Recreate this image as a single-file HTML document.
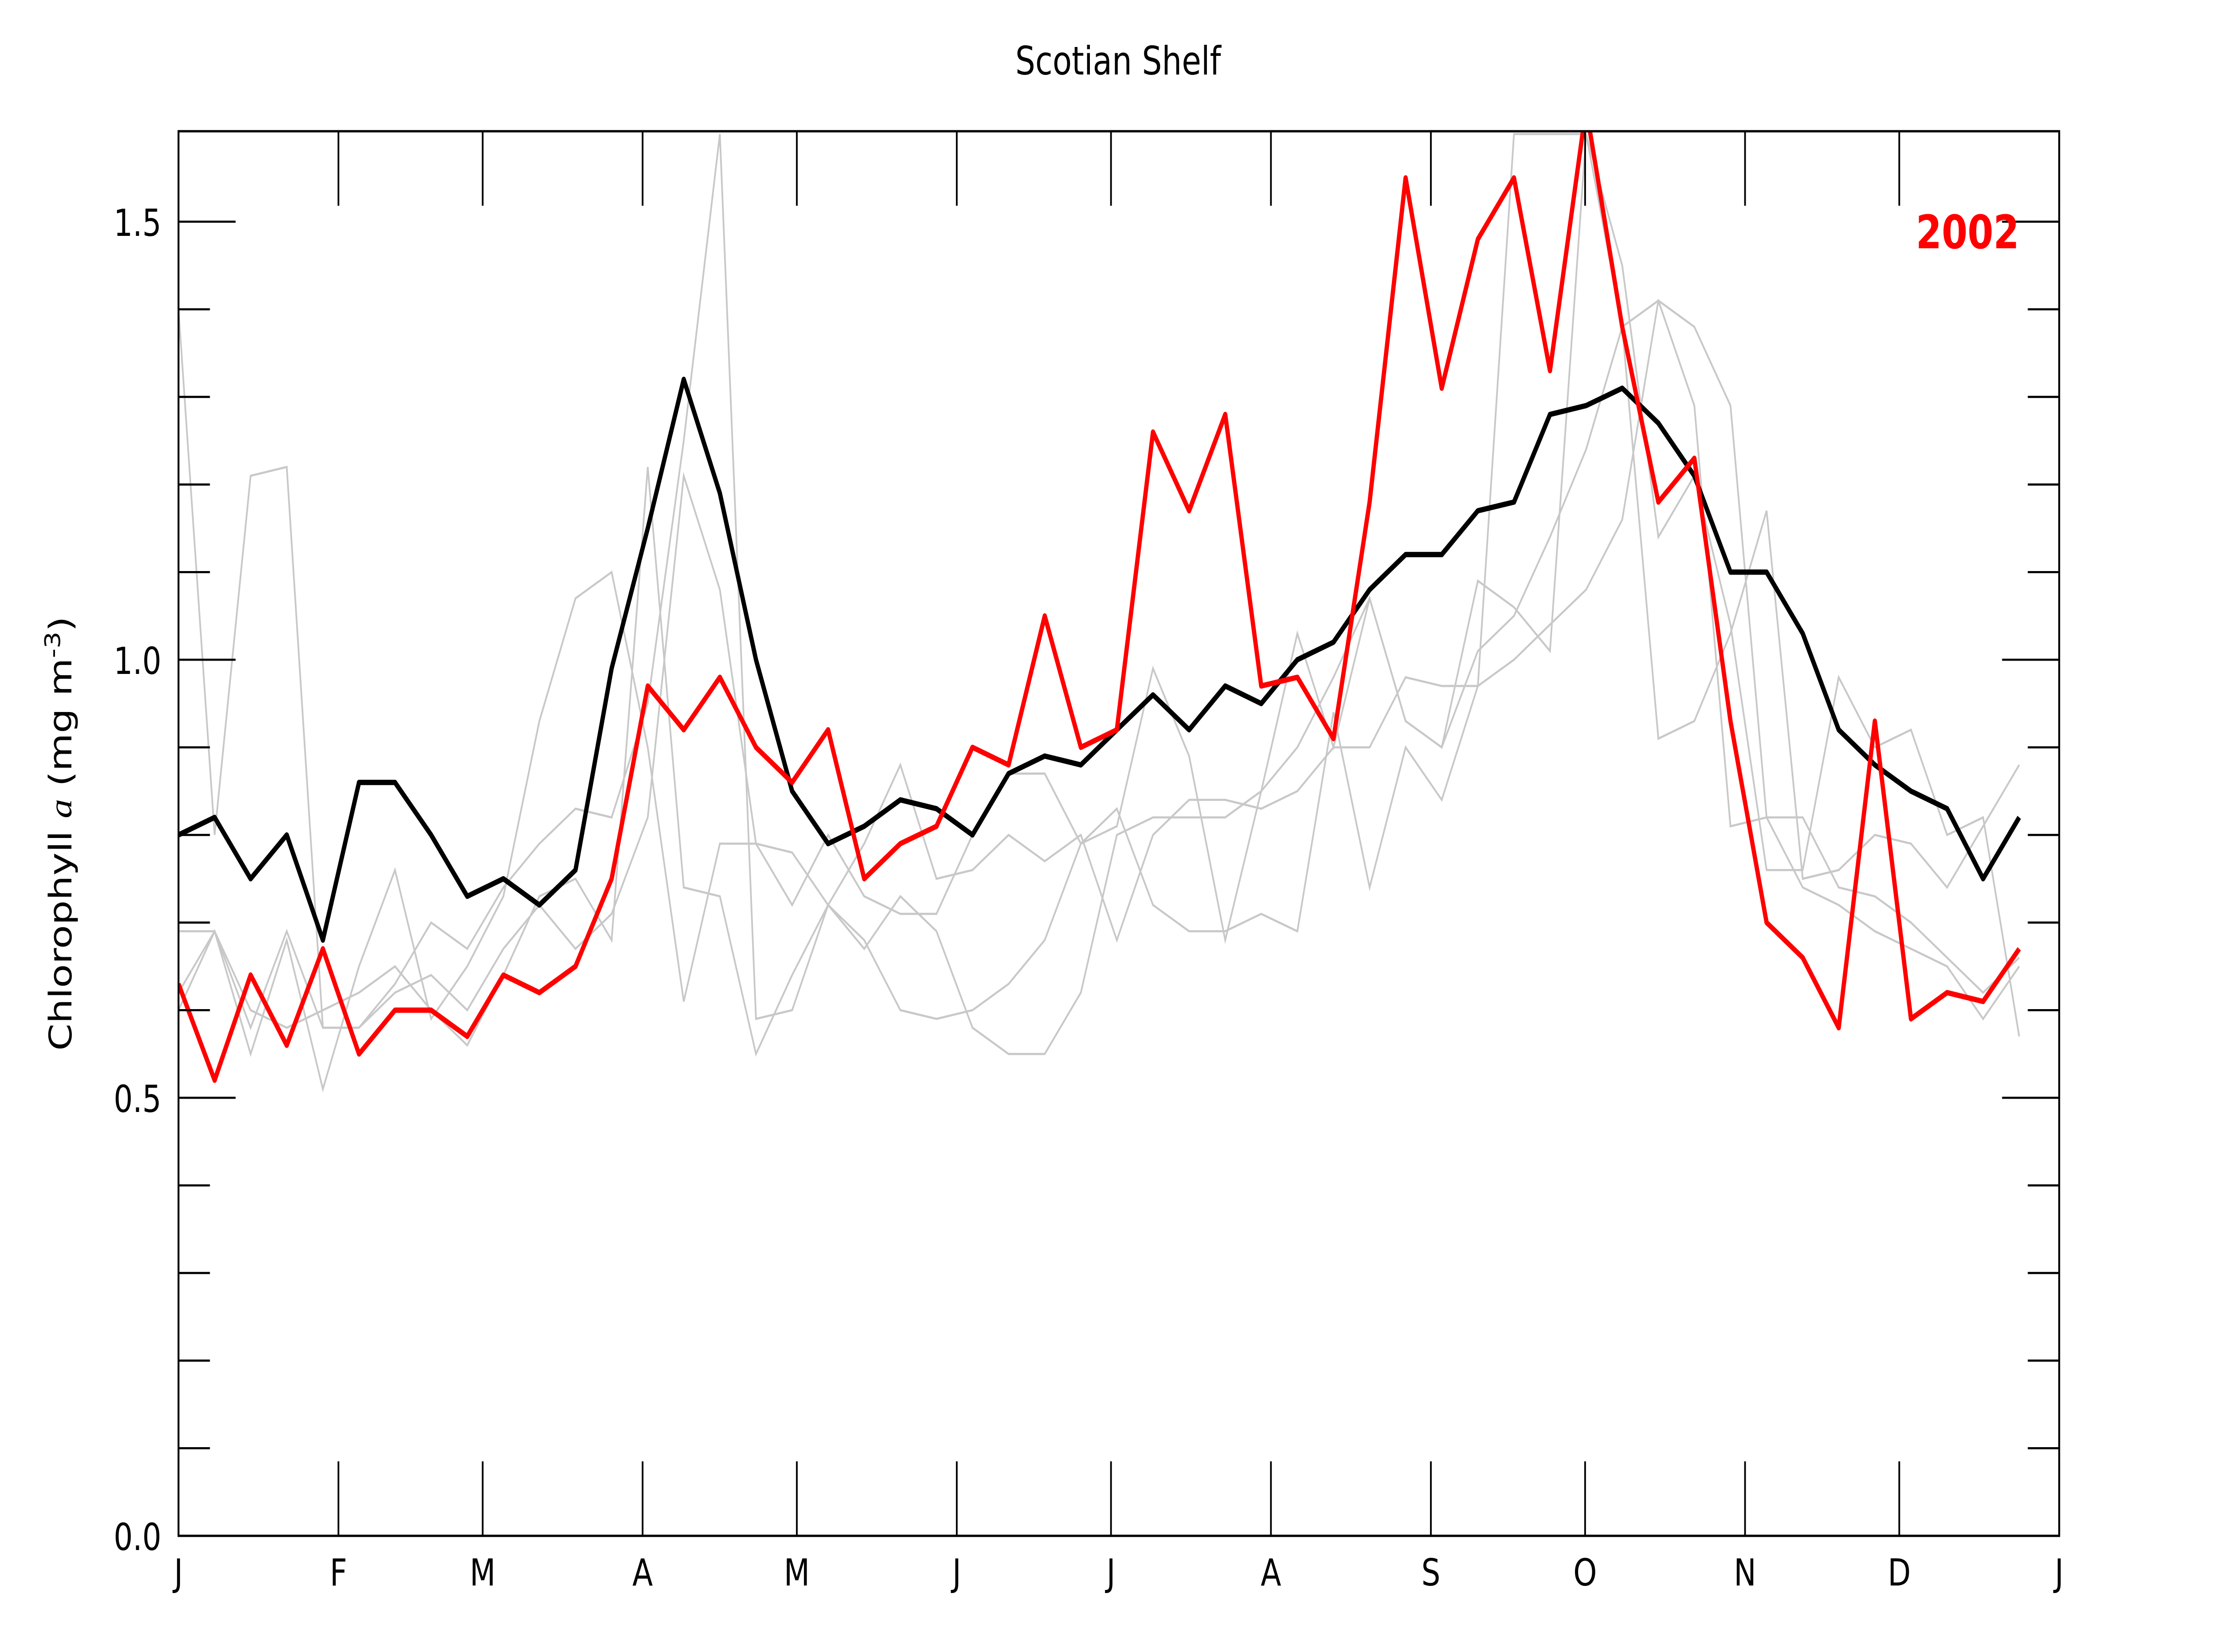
<!DOCTYPE html>
<html><head><meta charset="utf-8"><style>
html,body{margin:0;padding:0;background:#fff;width:100vw;height:100vh;overflow:hidden;}
svg{display:block;width:100vw;height:100vh;}
text{font-family:"DejaVu Sans","Liberation Sans",sans-serif;}
</style></head><body>
<svg id="chart" viewBox="0 0 1552.5 931.5" preserveAspectRatio="none" xmlns="http://www.w3.org/2000/svg">
<defs><clipPath id="plotclip"><rect x="125" y="74" width="1317" height="792"/></clipPath></defs>
<rect width="1552.5" height="931.5" fill="#fff"/>
<text x="783" y="42" font-size="22" text-anchor="middle">Scotian Shelf</text>
<g id="grays" clip-path="url(#plotclip)"></g>
<g id="main" clip-path="url(#plotclip)"></g>
<g id="axes"></g>
<rect x="125" y="74" width="1317" height="792" fill="none" stroke="#000" stroke-width="1.3"/>
<text x="1414" y="140" font-size="26" font-weight="bold" fill="#f00" text-anchor="end">2002</text>
<text transform="translate(50,470) rotate(-90)" font-size="22" text-anchor="middle">Chlorophyll <tspan font-style="italic" font-family="Liberation Serif, serif">a</tspan> (mg m<tspan dy="-8" font-size="15">-3</tspan><tspan dy="8">)</tspan></text>
</svg>
<script>
const monthLabels=["J","F","M","A","M","J","J","A","S","O","N","D","J"];
const monthPx=[125,237,338,450,558,670,778,890,1002,1110,1222,1330,1442];
const yTicks=[0,0.5,1.0,1.5];
const yTickLabels=["0.0","0.5","1.0","1.5"];
const climatology=[0.80,0.82,0.75,0.80,0.68,0.86,0.86,0.80,0.73,0.75,0.72,0.76,0.99,1.15,1.32,1.19,1.00,0.85,0.79,0.81,0.84,0.83,0.80,0.87,0.89,0.88,0.92,0.96,0.92,0.97,0.95,1.00,1.02,1.08,1.12,1.12,1.17,1.18,1.28,1.29,1.31,1.27,1.21,1.10,1.10,1.03,0.92,0.88,0.85,0.83,0.75,0.82];
const year2002=[0.63,0.52,0.64,0.56,0.67,0.55,0.60,0.60,0.57,0.64,0.62,0.65,0.75,0.97,0.92,0.98,0.90,0.86,0.92,0.75,0.79,0.81,0.90,0.88,1.05,0.90,0.92,1.26,1.17,1.28,0.97,0.98,0.91,1.18,1.55,1.31,1.48,1.55,1.33,1.63,1.38,1.18,1.23,0.93,0.70,0.66,0.58,0.93,0.59,0.62,0.61,0.67];
const gray1=[1.40,0.80,1.21,1.22,0.58,0.58,0.62,0.64,0.60,0.67,0.72,0.67,0.71,0.82,1.21,1.08,0.79,0.78,0.72,0.79,0.88,0.75,0.76,0.80,0.77,0.80,0.68,0.80,0.84,0.84,0.83,0.85,0.90,0.90,0.98,0.97,0.97,1.00,1.04,1.08,1.16,1.41,1.38,1.29,0.82,0.82,0.74,0.73,0.70,0.66,0.62,0.66];
const gray2=[0.69,0.69,0.55,0.68,0.51,0.65,0.76,0.59,0.65,0.73,0.93,1.07,1.10,0.90,0.61,0.79,0.79,0.72,0.80,0.73,0.71,0.71,0.80,0.87,0.87,0.79,0.81,0.99,0.89,0.68,0.85,1.03,0.90,1.07,0.93,0.90,1.09,1.06,1.01,1.60,1.45,1.14,1.21,1.04,0.76,0.76,0.98,0.90,0.92,0.80,0.82,0.57];
const gray3=[0.60,0.69,0.60,0.58,0.60,0.62,0.65,0.60,0.56,0.64,0.73,0.75,0.68,1.22,0.74,0.73,0.55,0.64,0.72,0.68,0.60,0.59,0.60,0.63,0.68,0.79,0.83,0.72,0.69,0.69,0.71,0.69,0.94,0.74,0.90,0.84,0.97,1.60,1.60,1.60,1.38,1.41,1.29,0.81,0.82,0.74,0.72,0.69,0.67,0.65,0.59,0.65];
const gray4=[0.62,0.69,0.58,0.69,0.58,0.58,0.63,0.70,0.67,0.74,0.79,0.83,0.82,0.95,1.25,1.60,0.59,0.60,0.72,0.67,0.73,0.69,0.58,0.55,0.55,0.62,0.80,0.82,0.82,0.82,0.85,0.90,0.98,1.07,0.93,0.90,1.01,1.05,1.14,1.24,1.38,0.91,0.93,1.03,1.17,0.75,0.76,0.80,0.79,0.74,0.81,0.88];
const grays=[gray1,gray2,gray3,gray4];
const NS="http://www.w3.org/2000/svg";
const X0=125,DX=(1414-125)/51,Y0=866,YS=494;
function xs(i){return X0+i*DX;}
function ys(v){return Y0-v*YS;}
function mk(tag,attrs,parent){const e=document.createElementNS(NS,tag);for(const k in attrs)e.setAttribute(k,attrs[k]);parent.appendChild(e);return e;}
function pts(arr){return arr.map((v,i)=>xs(i).toFixed(1)+","+ys(v).toFixed(1)).join(" ");}
const gG=document.getElementById("grays"),gM=document.getElementById("main"),gA=document.getElementById("axes");
grays.forEach((arr,k)=>{
  const p=mk("polyline",{points:pts(arr),fill:"none",stroke:"#c8c8c8","stroke-width":1.2},gG);
  
  
});
const cl=mk("polyline",{points:pts(climatology),fill:"none",stroke:"#000","stroke-width":3,"stroke-linejoin":"round"},gM);


const rl=mk("polyline",{points:pts(year2002),fill:"none",stroke:"#f00","stroke-width":3,"stroke-linejoin":"round"},gM);


for(let t=1;t<16;t++){
  const v=t/10,y=ys(v),major=(t%5===0);
  const L=major?40:22;
  mk("line",{x1:125,y1:y,x2:125+L,y2:y,stroke:"#000","stroke-width":1.2},gA);
  mk("line",{x1:1442-L,y1:y,x2:1442,y2:y,stroke:"#000","stroke-width":1.2},gA);
}
yTicks.forEach((v,i)=>{
  const t=mk("text",{x:113,y:ys(v)+8,"font-size":21,"text-anchor":"end"},gA);
  t.textContent=yTickLabels[i];
  
  
});
monthPx.forEach((x,i)=>{
  mk("line",{x1:x,y1:866,x2:x,y2:824,stroke:"#000","stroke-width":1.2},gA);
  mk("line",{x1:x,y1:74,x2:x,y2:116,stroke:"#000","stroke-width":1.2},gA);
  const t=mk("text",{x:x,y:894,"font-size":21,"text-anchor":"middle"},gA);
  t.textContent=monthLabels[i];
  
  
});
</script>
</body></html>
